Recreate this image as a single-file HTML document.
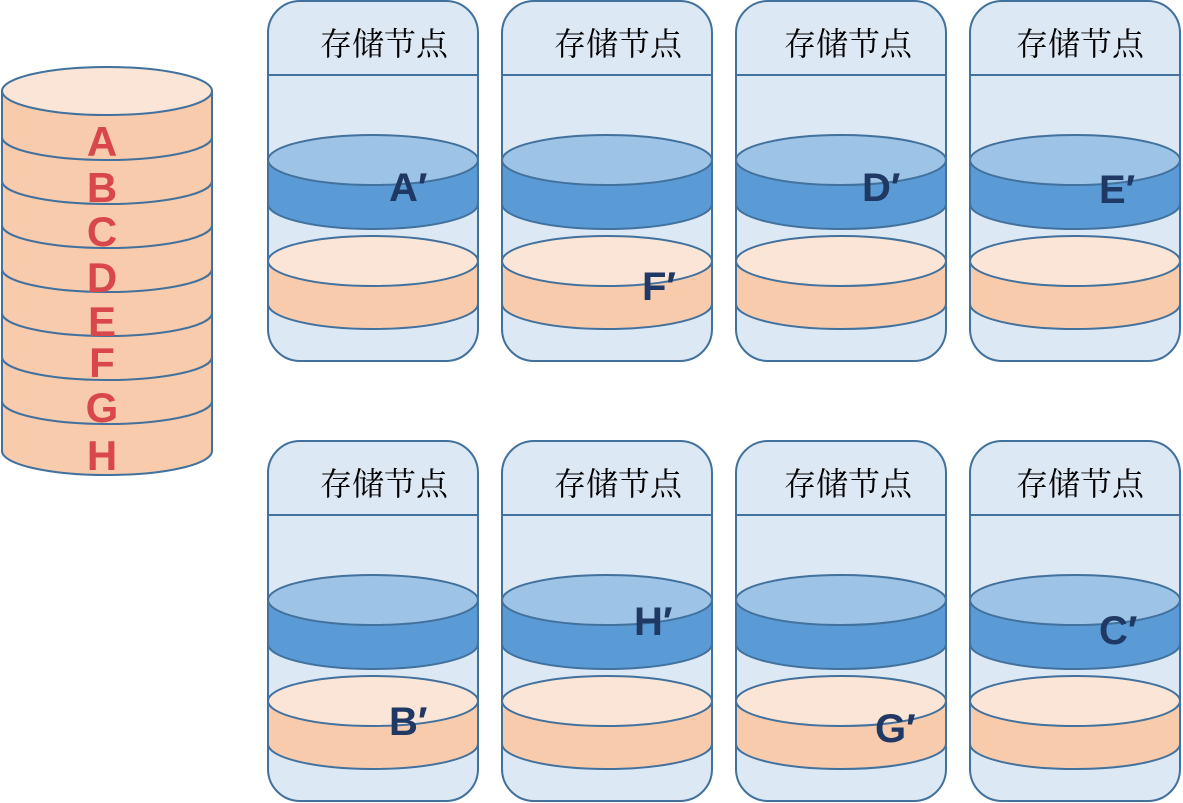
<!DOCTYPE html>
<html><head><meta charset="utf-8"><style>
html,body{margin:0;padding:0;background:#fff;}
svg{display:block}
.t{font-family:"Liberation Serif","Noto Serif CJK SC",serif;font-size:32px;fill:#000}
.p{font-family:"Liberation Sans",sans-serif;font-weight:bold;font-size:40px;fill:#1f3864}
.l{font-family:"Liberation Sans",sans-serif;font-weight:bold;font-size:42px;fill:#d9474a;text-anchor:middle}
</style></head><body>
<svg width="1183" height="803" viewBox="0 0 1183 803" xmlns="http://www.w3.org/2000/svg">
<defs>
<g id="node">
 <rect x="0" y="0" width="210" height="360" rx="32" fill="#dde8f5" stroke="#41719c" stroke-width="2"/>
 <line x1="0" y1="74" x2="210" y2="74" stroke="#41719c" stroke-width="2"/>
 <path d="M0 159 V203 A105 25 0 0 0 210 203 V159 Z" fill="#5b9bd5" stroke="#41719c" stroke-width="2"/>
 <ellipse cx="105" cy="159" rx="105" ry="25" fill="#9dc3e6" stroke="#41719c" stroke-width="2"/>
 <path d="M0 260 V303 A105 25 0 0 0 210 303 V260 Z" fill="#f8cbad" stroke="#41719c" stroke-width="2"/>
 <ellipse cx="105" cy="260" rx="105" ry="25" fill="#fbe5d6" stroke="#41719c" stroke-width="2"/>
</g>
</defs>
<path d="M2 91 V451 A105 24 0 0 0 212 451 V91 Z" fill="#f8cbad" stroke="#41719c" stroke-width="2"/>
<g fill="none" stroke="#41719c" stroke-width="2">
<path d="M2 137 A105 23 0 0 0 212 137"/>
<path d="M2 181 A105 23 0 0 0 212 181"/>
<path d="M2 225 A105 23 0 0 0 212 225"/>
<path d="M2 269 A105 23 0 0 0 212 269"/>
<path d="M2 313 A105 23 0 0 0 212 313"/>
<path d="M2 357 A105 23 0 0 0 212 357"/>
<path d="M2 401 A105 23 0 0 0 212 401"/>
</g>
<ellipse cx="107" cy="91" rx="105" ry="24" fill="#fbe5d6" stroke="#41719c" stroke-width="2"/>
<text class="l" x="102" y="156">A</text>
<text class="l" x="102" y="202">B</text>
<text class="l" x="102" y="246">C</text>
<text class="l" x="102" y="292">D</text>
<text class="l" x="102" y="336">E</text>
<text class="l" x="102" y="377">F</text>
<text class="l" x="102" y="422">G</text>
<text class="l" x="102" y="470">H</text>
<use href="#node" x="268" y="1"/>
<use href="#node" x="502" y="1"/>
<use href="#node" x="736" y="1"/>
<use href="#node" x="970" y="1"/>
<use href="#node" x="268" y="441"/>
<use href="#node" x="502" y="441"/>
<use href="#node" x="736" y="441"/>
<use href="#node" x="970" y="441"/>
<text class="t" x="320" y="55">存储节点</text>
<text class="t" x="554" y="55">存储节点</text>
<text class="t" x="784" y="55">存储节点</text>
<text class="t" x="1016" y="55">存储节点</text>
<text class="t" x="320" y="495">存储节点</text>
<text class="t" x="554" y="495">存储节点</text>
<text class="t" x="784" y="495">存储节点</text>
<text class="t" x="1016" y="495">存储节点</text>
<text class="p" x="389" y="201">A′</text>
<text class="p" x="642" y="300">F′</text>
<text class="p" x="862" y="201">D′</text>
<text class="p" x="1099" y="203">E′</text>
<text class="p" x="634" y="635">H′</text>
<text class="p" x="1099" y="644">C′</text>
<text class="p" x="389" y="735">B′</text>
<text class="p" x="875" y="742">G′</text>
</svg>
</body></html>
